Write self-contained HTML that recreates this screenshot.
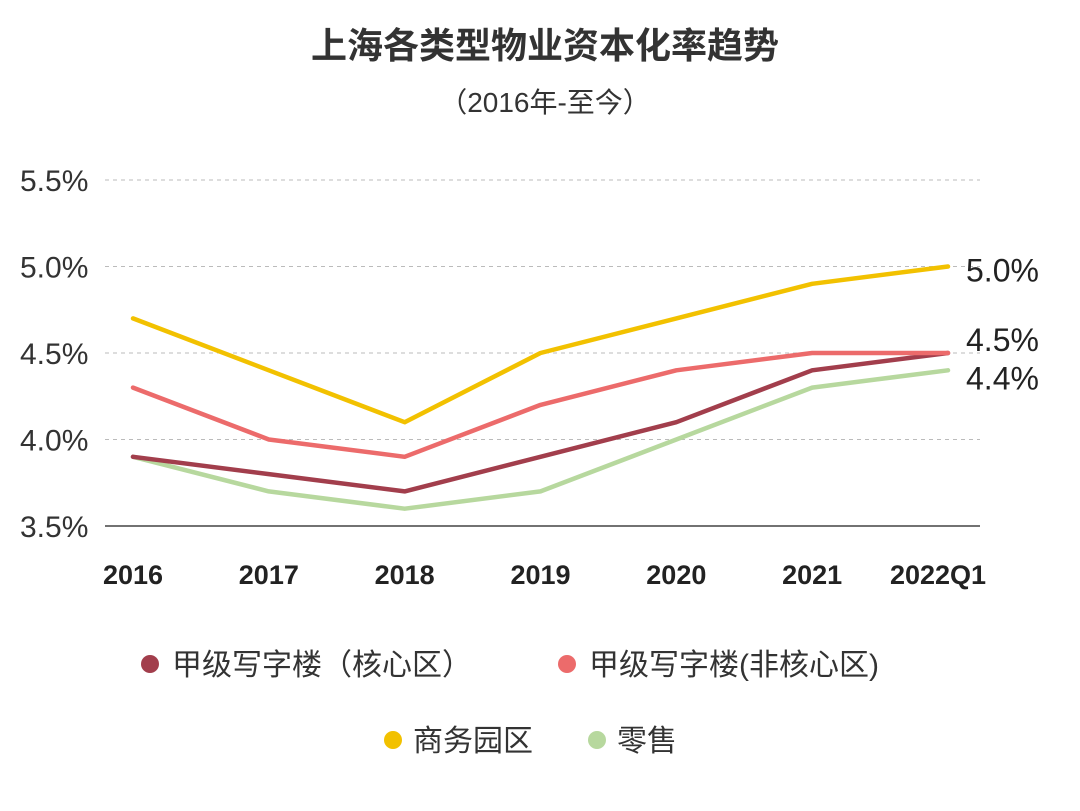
<!DOCTYPE html>
<html><head><meta charset="utf-8"><style>
body{margin:0;background:#fff;}
svg{display:block;font-family:"Liberation Sans","Noto Sans CJK SC",sans-serif;}
</style></head><body>
<svg id="chart" width="1080" height="811" viewBox="0 0 1080 811">
<text x="545" y="58" text-anchor="middle" font-size="36" font-weight="bold" fill="#333">上海各类型物业资本化率趋势</text>
<text x="545" y="112" text-anchor="middle" font-size="28" fill="#333">（2016年-至今）</text>
<g id="grid"></g><g id="series"></g><g id="labels"></g>
<g font-size="30" fill="#333">
<circle cx="150" cy="664" r="9" fill="#a23e4c"/>
<text x="172" y="675">甲级写字楼（核心区）</text>
<circle cx="567" cy="664" r="9" fill="#ec6b6b"/>
<text x="589" y="675">甲级写字楼(非核心区)</text>
<circle cx="393" cy="740" r="9" fill="#f2c100"/>
<text x="413" y="751">商务园区</text>
<circle cx="597" cy="740" r="9" fill="#b7d89e"/>
<text x="617" y="751">零售</text>
</g>
</svg>
<script>
const categories=["2016","2017","2018","2019","2020","2021","2022Q1"];
const yTicks=[3.5,4.0,4.5,5.0,5.5];
const coreOffice=[3.9,3.8,3.7,3.9,4.1,4.4,4.5];
const nonCoreOffice=[4.3,4.0,3.9,4.2,4.4,4.5,4.5];
const businessPark=[4.7,4.4,4.1,4.5,4.7,4.9,5.0];
const retail=[3.9,3.7,3.6,3.7,4.0,4.3,4.4];
const endLabels=["5.0%","4.5%","4.4%"];

const NS="http://www.w3.org/2000/svg";
const x=i=>133+i*(948-133)/(categories.length-1);
const y=v=>526-(v-3.5)*173;
function mk(tag,attrs,parent){const e=document.createElementNS(NS,tag);for(const k in attrs)e.setAttribute(k,attrs[k]);parent.appendChild(e);return e;}
const grid=document.getElementById('grid');
yTicks.forEach(t=>{
  const l=mk('line',{x1:105,x2:980,y1:y(t),y2:y(t),stroke:t===3.5?'#444':'#bbb','stroke-width':t===3.5?1.5:1,'stroke-dasharray':t===3.5?'':'4,4'},grid);
  
  
  const tx=mk('text',{x:20,y:y(t)+11,'font-size':30,fill:'#333'},grid);
  tx.textContent=t.toFixed(1)+'%';
  
  
});
categories.forEach((c,i)=>{
  const tx=mk('text',{x:x(i)-(i===categories.length-1?10:0),y:584,'font-size':27,'font-weight':'bold','text-anchor':'middle',fill:'#222'},grid);
  tx.textContent=c;
  
  
});
const sg=document.getElementById('series');
[[retail,'#b7d89e','line-retail'],[coreOffice,'#a23e4c','line-core-office'],[nonCoreOffice,'#ec6b6b','line-noncore-office'],[businessPark,'#f2c100','line-business-park']].forEach(([d,c,n])=>{
  const p=mk('polyline',{points:d.map((v,i)=>x(i)+','+y(v)).join(' '),fill:'none',stroke:c,'stroke-width':4.5,'stroke-linejoin':'round','stroke-linecap':'round'},sg);
  
  
});
const lg=document.getElementById('labels');
const lys=[y(businessPark[6])+15,y(nonCoreOffice[6])-2,y(retail[6])+19];
endLabels.forEach((t,i)=>{
  const tx=mk('text',{x:966,y:lys[i],'font-size':32,fill:'#222'},lg);
  tx.textContent=t;
  
  
});
</script>
</body></html>
